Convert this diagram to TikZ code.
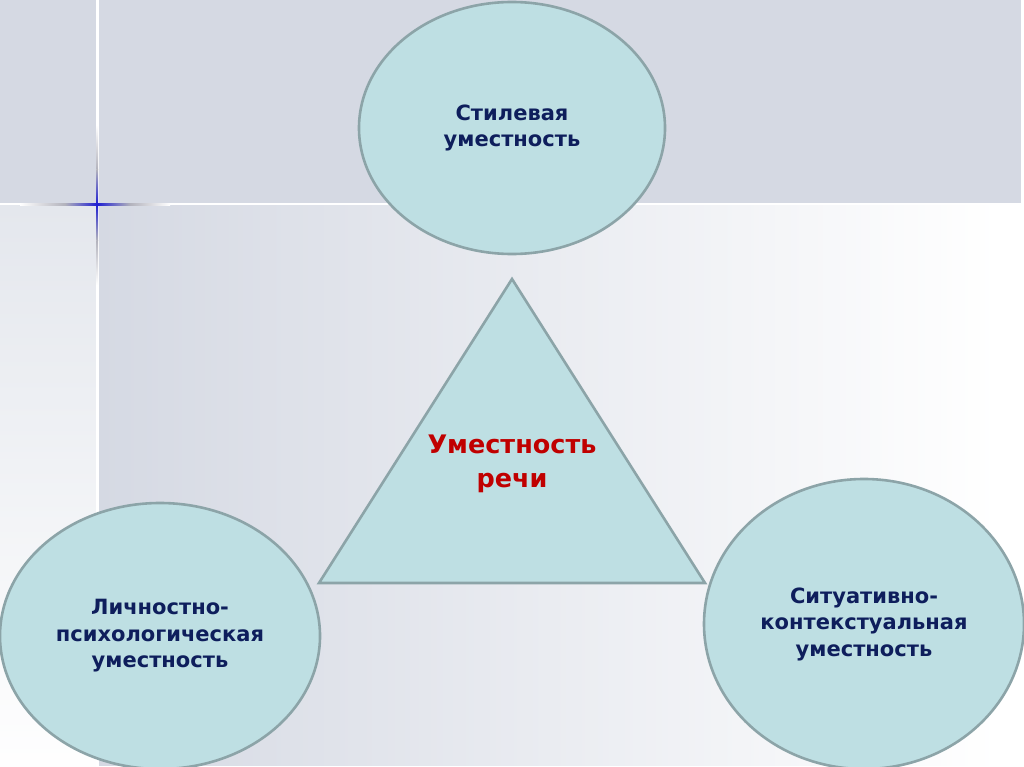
\documentclass[tikz,border=0pt]{standalone}
\usepackage{fontspec}
\setmainfont{DejaVu Sans}
\usetikzlibrary{shapes.geometric}
\definecolor{bandgray}{RGB}{213,217,227}
\definecolor{stripgray}{RGB}{228,231,237}
\definecolor{shapefill}{RGB}{190,223,227}
\definecolor{shapeline}{RGB}{140,164,168}
\definecolor{navytext}{RGB}{14,30,92}
\definecolor{redtext}{RGB}{192,0,0}
\definecolor{sparkblue}{RGB}{30,30,210}
\definecolor{sparkgray}{RGB}{178,178,188}
\tikzset{
  oval/.style={ellipse, draw=shapeline, line width=2.6pt, fill=shapefill, inner sep=0pt,
    align=center, text=navytext, font=\bfseries\fontsize{21}{26.5}\selectfont},
  tri/.style={draw=shapeline, line width=2.6pt, fill=shapefill, line join=miter},
  centertext/.style={align=center, text=redtext, font=\bfseries\fontsize{25.5}{34}\selectfont}
}
\begin{document}
\begin{tikzpicture}[x=1pt,y=-1pt]
\useasboundingbox (0,0) rectangle (1024,767);
% background
\fill[white] (0,0) rectangle (1024,767);
\fill[bandgray] (0,0) rectangle (1021,203);
\shade[top color=stripgray, bottom color=white!97!stripgray] (0,205) rectangle (96,767);
\shade[left color=bandgray, right color=white] (98,205) rectangle (1000,765);
\fill[white] (0,203) rectangle (1024,205.5);
\fill[white] (96,0) rectangle (98.5,767);
% sparkle
\shade[left color=white, right color=sparkgray] (20,203.4) rectangle (65,205.1);
\shade[left color=sparkgray, right color=sparkblue] (65,203.4) rectangle (97.2,205.1);
\shade[left color=sparkblue, right color=sparkgray] (97.2,203.4) rectangle (130,205.1);
\shade[left color=sparkgray, right color=white] (130,203.4) rectangle (170,205.1);
\shade[top color=white, bottom color=sparkgray] (96.4,125) rectangle (98.1,170);
\shade[top color=sparkgray, bottom color=sparkblue] (96.4,170) rectangle (98.1,204.2);
\shade[top color=sparkblue, bottom color=sparkgray] (96.4,204.2) rectangle (98.1,240);
\shade[top color=sparkgray, bottom color=white] (96.4,240) rectangle (98.1,285);
% shapes
\node[oval, minimum width=306pt, minimum height=252pt] (style) at (512,128) {Стилевая\\уместность};
\draw[tri] (512,279) -- (705,583) -- (319,583) -- cycle;
\node[centertext] (speech) at (512,464) {Уместность\\речи};
\node[oval, minimum width=320pt, minimum height=266pt] (person) at (160,636) {Личностно-\\психологическая\\уместность};
\node[oval, minimum width=320pt, minimum height=290pt] (situation) at (864,624) {Ситуативно-\\контекстуальная\\уместность};
\end{tikzpicture}
\end{document}
